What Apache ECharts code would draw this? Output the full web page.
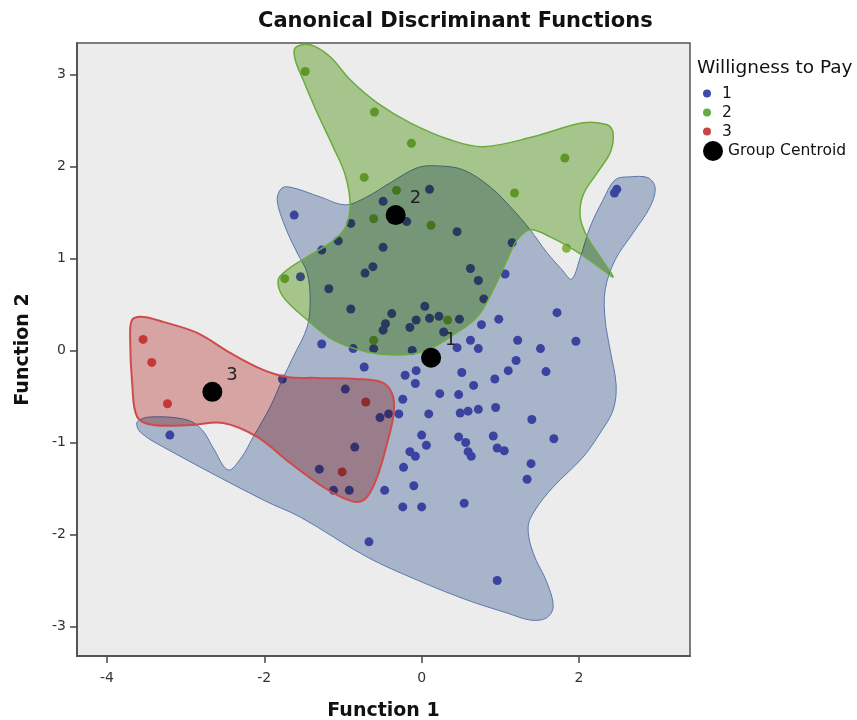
<!DOCTYPE html>
<html>
<head>
<meta charset="utf-8">
<script src="https://cdn.jsdelivr.net/npm/echarts@6/dist/echarts.min.js"></script>
<style>html,body{margin:0;padding:0;background:#fff}#c{width:857px;height:720px}</style>
</head>
<body>
<div id="c"></div>
<script>
// ---- data ----
const xTicks = [-4, -2, 0, 2];
const yTicks = [-3, -2, -1, 0, 1, 2, 3];

const group1Points = [
  [-1.62,1.47],[0.10,1.75],[-0.49,1.62],[-0.19,1.40],[-0.90,1.38],[0.45,1.29],[-1.06,1.19],[-1.27,1.09],
  [-0.49,1.12],[1.15,1.17],[2.48,1.75],[2.45,1.71],[0.62,0.89],[0.72,0.76],[-0.62,0.91],[-0.72,0.84],
  [-1.54,0.80],[1.06,0.83],[-1.18,0.67],[0.79,0.56],[-0.90,0.45],[-0.38,0.40],[0.04,0.48],[-0.46,0.29],
  [-0.49,0.22],[-0.15,0.25],[-0.07,0.33],[0.10,0.35],[0.22,0.37],[0.48,0.34],[0.28,0.20],[-1.27,0.07],
  [-0.87,0.02],[-0.61,0.02],[-0.12,0.00],[0.98,0.34],[1.72,0.41],[0.76,0.28],[0.62,0.11],[0.45,0.03],
  [0.72,0.02],[1.22,0.11],[1.51,0.02],[1.96,0.10],[1.20,-0.11],[1.10,-0.22],[0.93,-0.31],[1.58,-0.23],
  [0.51,-0.24],[-0.73,-0.18],[-0.21,-0.27],[-0.07,-0.22],[-0.08,-0.36],[0.66,-0.38],[0.23,-0.47],[0.47,-0.48],
  [-0.24,-0.53],[-0.97,-0.42],[-1.77,-0.31],[0.49,-0.68],[0.59,-0.66],[0.72,-0.64],[0.94,-0.62],[1.40,-0.75],
  [-0.53,-0.73],[-0.42,-0.69],[-0.29,-0.69],[0.09,-0.69],[0.00,-0.92],[0.06,-1.03],[-0.15,-1.10],[-0.08,-1.15],
  [-0.85,-1.05],[0.47,-0.94],[0.56,-1.00],[0.59,-1.10],[0.63,-1.15],[0.91,-0.93],[0.96,-1.06],[1.05,-1.09],
  [1.68,-0.96],[1.39,-1.23],[1.34,-1.40],[-0.23,-1.27],[-1.30,-1.29],[-1.12,-1.52],[-0.92,-1.52],[-0.47,-1.52],
  [-0.10,-1.47],[-0.24,-1.70],[0.00,-1.70],[-0.67,-2.08],[0.54,-1.66],[0.96,-2.50],[-3.20,-0.92]
];
const group2Points = [
  [-1.48,3.03],[-0.60,2.59],[-0.13,2.25],[-0.73,1.88],[-0.32,1.74],[-0.61,1.43],[0.12,1.36],
  [1.18,1.71],[1.82,2.09],[1.84,1.11],[-1.74,0.78],[0.33,0.33],[-0.61,0.11]
];
const group3Points = [
  [-3.54,0.12],[-3.43,-0.13],[-3.23,-0.58],[-0.71,-0.56],[-1.01,-1.32]
];
const centroidX = [0.12, -0.33, -2.66];
const centroidY = [-0.08, 1.47, -0.45];
const centroidLabels = ['1', '2', '3'];

// territory outlines (function 1, function 2)
const outline1 = [
  [-3.615,-0.777],[-3.450,-0.723],[-2.980,-0.755],[-2.789,-0.864],[-2.649,-1.060],[-2.459,-1.299],[-2.294,-1.168],
  [-2.141,-0.940],[-1.925,-0.614],[-1.773,-0.321],[-1.633,-0.071],[-1.455,0.255],[-1.417,0.549],[-1.455,0.842],
  [-1.582,1.060],[-1.734,1.342],[-1.836,1.636],[-1.773,1.766],[-1.633,1.766],[-1.290,1.668],[-0.972,1.582],
  [-0.718,1.658],[-0.400,1.821],[-0.057,1.984],[0.197,2.005],[0.527,1.962],[0.870,1.777],[1.163,1.527],
  [1.379,1.310],[1.590,1.065],[1.780,0.880],[1.905,0.775],[2.014,1.005],[2.141,1.342],[2.306,1.636],
  [2.459,1.853],[2.649,1.886],[2.878,1.875],[2.967,1.766],[2.903,1.560],[2.687,1.277],[2.459,0.984],
  [2.332,0.658],[2.332,0.332],[2.395,0.005],[2.471,-0.375],[2.433,-0.647],[2.268,-0.897],[2.052,-1.158],
  [1.671,-1.484],[1.442,-1.734],[1.353,-1.918],[1.417,-2.201],[1.595,-2.527],[1.671,-2.788],[1.582,-2.908],
  [1.379,-2.929],[1.086,-2.853],[0.578,-2.712],[-0.057,-2.495],[-0.693,-2.245],[-1.544,-1.810],[-2.014,-1.625],
  [-3.285,-1.049],[-3.577,-0.886]
];
const outline2 = [
  [-1.607,3.288],[-1.417,3.321],[-1.163,3.190],[-0.909,2.940],[-0.565,2.690],[-0.146,2.473],[0.362,2.288],
  [0.781,2.212],[1.417,2.321],[2.052,2.473],[2.357,2.451],[2.433,2.364],[2.395,2.147],[2.230,1.929],
  [2.052,1.690],[2.014,1.451],[2.103,1.234],[2.268,1.016],[2.433,0.799],[2.268,0.897],[1.976,1.071],
  [1.633,1.234],[1.379,1.310],[1.213,1.201],[1.086,0.984],[0.909,0.658],[0.705,0.364],[0.362,0.147],
  [0.070,0.005],[-0.273,-0.049],[-0.693,-0.016],[-1.125,0.114],[-1.455,0.332],[-1.760,0.582],[-1.823,0.766],
  [-1.709,0.875],[-1.455,1.016],[-1.163,1.168],[-0.972,1.332],[-0.909,1.582],[-0.972,1.908],[-1.125,2.212],
  [-1.328,2.582],[-1.506,2.940],[-1.607,3.158]
];
const outline3 = [
  [-3.679,0.332],[-3.539,0.364],[-3.285,0.310],[-2.853,0.190],[-2.433,-0.027],[-2.014,-0.212],[-1.709,-0.288],
  [-1.328,-0.299],[-0.820,-0.310],[-0.489,-0.353],[-0.362,-0.505],[-0.362,-0.723],[-0.438,-1.005],[-0.565,-1.375],
  [-0.693,-1.592],[-0.820,-1.647],[-0.997,-1.603],[-1.252,-1.484],[-1.671,-1.223],[-2.090,-0.940],[-2.522,-0.788],
  [-2.942,-0.810],[-3.412,-0.810],[-3.615,-0.723],[-3.679,-0.353],[-3.704,0.114]
];

// ---- chart ----
const FONT = 'DejaVu Sans';
const chart = echarts.init(document.getElementById('c'), null, {renderer: 'canvas'});

function hullSeries(name, outline, fill, stroke, lw) {
  return {
    name: name, type: 'custom', z: 3, silent: true, data: outline,
    renderItem: function (params, api) {
      if (params.dataIndex !== 0) return null;
      const pts = outline.map(p => api.coord(p));
      return {
        type: 'group',
        children: [
          {type: 'polygon', name: 'hullFill', shape: {points: pts, smooth: 0.35},
           style: {fill: fill, stroke: null, blend: 'multiply'}},
          {type: 'polygon', name: 'hullEdge', shape: {points: pts, smooth: 0.35},
           style: {fill: null, stroke: stroke, lineWidth: lw}}
        ]
      };
    }
  };
}

const centroidData = centroidX.map((x, i) => [x, centroidY[i], centroidLabels[i]]);

chart.setOption({
  animation: false,
  backgroundColor: '#ffffff',
  title: [
    {text: 'Canonical Discriminant Functions', left: 253, top: 6,
     textStyle: {fontFamily: FONT, fontSize: 21, fontWeight: 'bold', color: '#111'}},
    {text: 'Willigness to Pay', left: 692, top: 54,
     textStyle: {fontFamily: FONT, fontSize: 18.5, fontWeight: 'normal', color: '#111'}}
  ],
  legend: [
    {orient: 'vertical', left: 698, top: 80.5, itemWidth: 20, itemHeight: 8, itemGap: 3,
     icon: 'circle', textStyle: {fontFamily: FONT, fontSize: 15.5, color: '#111'},
     data: [{name: '1', itemStyle: {color: '#3f4ca6'}},
            {name: '2', itemStyle: {color: '#62ad40'}},
            {name: '3', itemStyle: {color: '#c94444'}}]},
    {orient: 'vertical', left: 698, top: 136, itemWidth: 20, itemHeight: 21,
     icon: 'circle', textStyle: {fontFamily: FONT, fontSize: 15.5, color: '#111'},
     data: [{name: 'Group Centroid', itemStyle: {color: '#000'}}]}
  ],
  grid: {left: 77, right: 167, top: 43, bottom: 64, show: true, backgroundColor: '#ececec',
         borderColor: '#555', borderWidth: 1.5, outerBoundsMode: 'none'},
  xAxis: {
    type: 'value', min: -4.38, max: 3.41,
    name: 'Function 1', nameLocation: 'middle', nameGap: 46,
    nameTextStyle: {fontFamily: FONT, fontSize: 19, fontWeight: 'bold', color: '#111'},
    axisLine: {onZero: false, lineStyle: {color: '#555', width: 2}},
    axisTick: {show: true, length: 7, customValues: xTicks, lineStyle: {color: '#444', width: 1.5}},
    axisLabel: {customValues: xTicks, margin: 15, fontFamily: FONT, fontSize: 14, color: '#333'},
    splitLine: {show: false}
  },
  yAxis: {
    type: 'value', min: -3.32, max: 3.34,
    name: 'Function 2', nameLocation: 'middle', nameGap: 44, nameRotate: 90,
    nameTextStyle: {fontFamily: FONT, fontSize: 19, fontWeight: 'bold', color: '#111'},
    axisLine: {onZero: false, lineStyle: {color: '#555', width: 2}},
    axisTick: {show: true, length: 7, customValues: yTicks, lineStyle: {color: '#444', width: 1.5}},
    axisLabel: {customValues: yTicks, margin: 11, fontFamily: FONT, fontSize: 14, color: '#333'},
    splitLine: {show: false}
  },
  series: [
    {name: '1', type: 'scatter', z: 2, symbolSize: 9, data: group1Points, itemStyle: {color: '#5159bc', opacity: 1}},
    {name: '2', type: 'scatter', z: 2, symbolSize: 9, data: group2Points, itemStyle: {color: '#87b443', opacity: 1}},
    {name: '3', type: 'scatter', z: 2, symbolSize: 9, data: group3Points, itemStyle: {color: '#db4f4f', opacity: 1}},
    hullSeries('hull1', outline1, '#b6c3d9', '#5b78ad', 1),
    hullSeries('hull3', outline3, '#e9b1b1', '#cf4b4b', 2),
    hullSeries('hull2', outline2, '#b3d598', '#6aac3c', 1.5),
    {name: 'Group Centroid', type: 'scatter', z: 5, symbolSize: 20, data: centroidData,
     itemStyle: {color: '#000', opacity: 1},
     label: {show: true, position: 'right', distance: 4, offset: [0, -17],
             formatter: p => p.data[2], fontFamily: FONT, fontSize: 18, color: '#222'}}
  ]
});

// territory fills are composited with a multiply blend so that overlaps darken
function applyBlend() {
  const zr = chart.getZr();
  zr.storage.getDisplayList(true).forEach(function (el) {
    if (el.type === 'polygon' && el.name === 'hullFill') {
      el.style.blend = 'multiply';
      el.markRedraw();
    }
  });
  zr.refreshImmediately();
}
applyBlend();
chart.on('finished', function () {
  const zr = chart.getZr();
  let need = false;
  zr.storage.getDisplayList(true).forEach(function (el) {
    if (el.type === 'polygon' && el.name === 'hullFill' && el.style.blend !== 'multiply') need = true;
  });
  if (need) applyBlend();
});
</script>
</body>
</html>
